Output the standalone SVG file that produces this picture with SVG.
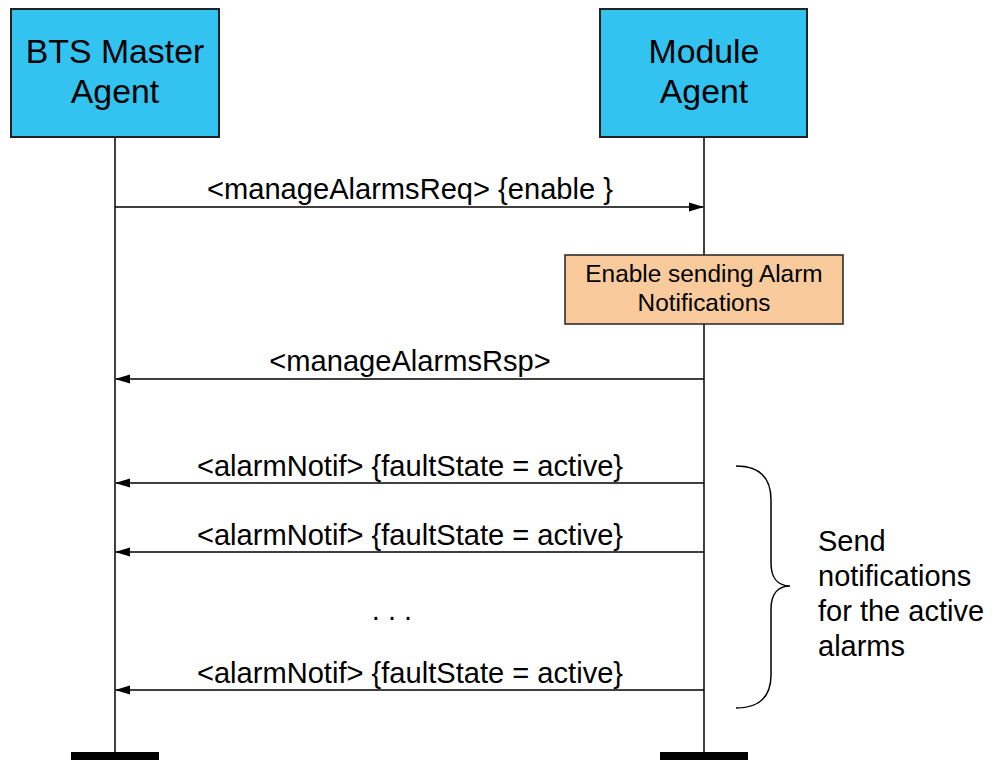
<svg xmlns="http://www.w3.org/2000/svg" width="994" height="760" viewBox="0 0 994 760">
<defs>
<style>
text{font-family:"Liberation Sans",Arial,sans-serif;fill:#000}
.title{font-size:33.8px;text-anchor:middle}
.msg{font-size:29.1px;text-anchor:middle}
.note{font-size:24.4px;text-anchor:middle}
.side{font-size:29px}
.agent{fill:#32c3f0;stroke:#222;stroke-width:2}
.life{stroke:#000;stroke-width:1.5;fill:none}
.arrow{stroke:#000;stroke-width:1.5;fill:none;marker-end:url(#ah)}
.bar{fill:#000}
</style>
<marker id="ah" markerWidth="15" markerHeight="10" refX="14" refY="5" orient="auto" markerUnits="userSpaceOnUse">
<path d="M0,0.5 L15,5 L0,9.5 Z" fill="#000"/>
</marker>
</defs>
<rect width="994" height="760" fill="#fff"/>
<g id="lifelines">
<line class="life" x1="115" y1="137" x2="115" y2="752"/>
<line class="life" x1="704" y1="137" x2="704" y2="752"/>
<rect class="bar" x="71" y="752" width="88" height="8"/>
<rect class="bar" x="660" y="752" width="88" height="8"/>
</g>
<g id="bts-master-agent">
<rect class="agent" x="11" y="9" width="208" height="128"/>
<text class="title" x="115" y="63">BTS Master</text>
<text class="title" x="115" y="103">Agent</text>
</g>
<g id="module-agent">
<rect class="agent" x="600" y="9" width="207" height="128"/>
<text class="title" x="704" y="63">Module</text>
<text class="title" x="704" y="103">Agent</text>
</g>
<g id="note-enable">
<rect x="565" y="255" width="278" height="69" fill="#f9cb9c" stroke="#222" stroke-width="1.5"/>
<text class="note" x="704" y="282">Enable sending Alarm</text>
<text class="note" x="704" y="311">Notifications</text>
</g>
<g id="connectors">
<line class="arrow" x1="115" y1="207" x2="703" y2="207"/>
<line class="arrow" x1="704" y1="379" x2="116" y2="379"/>
<line class="arrow" x1="704" y1="483" x2="116" y2="483"/>
<line class="arrow" x1="704" y1="552" x2="116" y2="552"/>
<line class="arrow" x1="704" y1="690" x2="116" y2="690"/>
</g>
<g id="labels">
<text class="msg" x="410" y="199">&lt;manageAlarmsReq&gt; {enable }</text>
<text class="msg" x="410" y="371">&lt;manageAlarmsRsp&gt;</text>
<text class="msg" x="410" y="476">&lt;alarmNotif&gt; {faultState = active}</text>
<text class="msg" x="410" y="545">&lt;alarmNotif&gt; {faultState = active}</text>
<text class="msg" x="392" y="620">. . .</text>
<text class="msg" x="410" y="683">&lt;alarmNotif&gt; {faultState = active}</text>
</g>
<g id="brace-group">
<path d="M736,466 C760,466 771,478 771,500 L771,563 C771,578 778,586 790,586 C778,586 771,594 771,609 L771,675 C771,697 760,708 736,708" fill="none" stroke="#000" stroke-width="1.5"/>
<text class="side" x="818" y="551">Send</text>
<text class="side" x="818" y="586">notifications</text>
<text class="side" x="818" y="621">for the active</text>
<text class="side" x="818" y="656">alarms</text>
</g>
</svg>
